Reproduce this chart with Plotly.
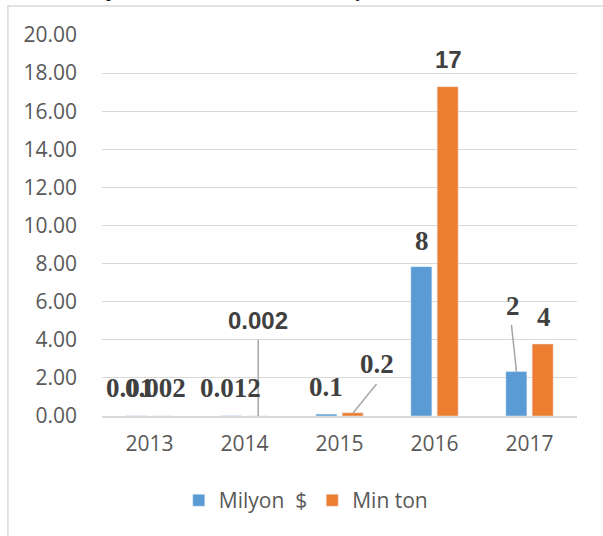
import plotly.graph_objects as go

# data
years = ["2013", "2014", "2015", "2016", "2017"]
milyon_usd = [0.01, 0.012, 0.1, 7.84, 2.33]
min_ton = [0.002, 0.002, 0.17, 17.29, 3.78]
milyon_labels = ["0.01", "0.012", "0.1", "8", "2"]
min_ton_labels = ["0.002", "0.002", "0.2", "17", "4"]
y_ticks = [0, 2, 4, 6, 8, 10, 12, 14, 16, 18, 20]

BLUE = "#5b9bd5"
ORANGE = "#ed7d31"
GRID = "#d9d9d9"
TXT = "#595959"
LBL = "#404040"

fig = go.Figure()
fig.add_trace(go.Bar(x=years, y=milyon_usd, name="Milyon  $", marker_color=BLUE))
fig.add_trace(go.Bar(x=years, y=min_ton, name="Min ton", marker_color=ORANGE))

# data label placement: (xshift px, y in data units, font family)
serif = "Liberation Serif"
sans = "Liberation Sans"
blue_pos = [(-20, 1.47, serif), (-14, 1.47, serif), (-14, 1.54, serif),
            (-13, 9.19, serif), (-17, 5.80, serif)]
orange_pos = [(6, 1.47, serif), (13, 4.99, sans), (37, 2.73, serif),
              (14, 18.69, sans), (14, 5.20, serif)]

annotations = []
for labels, pos in [(milyon_labels, blue_pos), (min_ton_labels, orange_pos)]:
    for i, (txt, (dx, yy, fam)) in enumerate(zip(labels, pos)):
        annotations.append(dict(
            x=i, y=yy, xref="x", yref="y", text="<b>%s</b>" % txt,
            xshift=dx, showarrow=False, xanchor="center", yanchor="middle",
            font=dict(family=fam, size=27 if fam == serif else 24, color=LBL)))

# bottoms of the caption glyphs cut off at the top edge of the crop
for ch, xp in [("p", 0.018), ("ç", 0.537)]:
    annotations.append(dict(x=xp, y=1.084, xref="paper", yref="paper", text=ch,
                            showarrow=False, xanchor="center", yanchor="bottom",
                            font=dict(family=serif, size=20, color="black")))

# leader lines from bars to moved labels
leaders = [(1.144, 0.0, 1.144, 3.99), (2.144, 0.17, 2.39, 1.68), (3.863, 2.33, 3.81, 4.78)]
shapes = []
for x0, y0, x1, y1 in leaders:
    shapes.append(dict(type="line", xref="x", yref="y", x0=x0, y0=y0, x1=x1, y1=y1,
                       line=dict(color="#a6a6a6", width=1.5)))
# chart frame (only top and left edges are visible in the crop)
shapes.append(dict(type="rect", xref="paper", yref="paper", x0=-0.198, x1=1.1,
                   y0=-0.35, y1=1.076, line=dict(color=GRID, width=1.5), layer="below"))

fig.update_layout(
    width=603, height=536,
    margin=dict(l=101.5, r=26, t=35, b=120),
    paper_bgcolor="white", plot_bgcolor="white",
    barmode="group", bargap=0.446, bargroupgap=0.2,
    font=dict(family="Open Sans", color=TXT),
    xaxis=dict(type="category", range=[-0.5, 4.5], autorange=False, showgrid=False,
               showline=True, linecolor=GRID, linewidth=1.5,
               ticks="", tickfont=dict(size=21, color=TXT), ticklabelstandoff=8),
    yaxis=dict(range=[0, 20], autorange=False, tickvals=y_ticks, tickformat=".2f",
               showgrid=True, gridcolor=GRID, gridwidth=1.3, zeroline=False, showline=False,
               tickfont=dict(size=21, color=TXT), ticklabelstandoff=24),
    legend=dict(orientation="h", x=0.429, xanchor="center", y=-0.222, yanchor="middle",
                font=dict(size=21, color=TXT), itemwidth=30),
    annotations=annotations, shapes=shapes,
)

# drop the browser's default body margin so the figure sits at the page corner
fig.write_html("out.html", config={"displayModeBar": False},
               post_script="document.body.style.margin='0';")
